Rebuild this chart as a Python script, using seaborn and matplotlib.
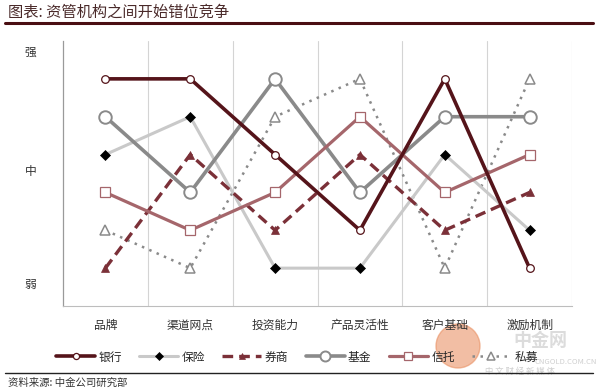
import matplotlib
matplotlib.use("Agg")
import matplotlib.pyplot as plt
from matplotlib.lines import Line2D
from matplotlib.patches import Ellipse
import numpy as np
import pandas as pd
import seaborn as sns

# 数据: 1 = 弱 ... 6 = 强
categories = ["品牌", "渠道网点", "投资能力", "产品灵活性", "客户基础", "激励机制"]
yinhang = [6, 6, 4, 2, 6, 1]
baoxian = [4, 5, 1, 1, 4, 2]
quanshang = [1, 4, 2, 4, 2, 3]
jijin = [5, 3, 6, 3, 5, 5]
xintuo = [3, 2, 3, 5, 3, 4]
simu = [2, 1, 5, 6, 1, 6]
level_labels = ["强", "中", "弱"]
level_pos = [6.75, 3.6, 0.6]

series = [
    ("银行", yinhang, dict(color="#55141a", lw=2.6, ls="-", marker="o", ms=5.5, mfc="white", mec="#55141a", mew=0.9)),
    ("保险", baoxian, dict(color="#c9c9c9", lw=2.2, ls="-", marker="D", ms=5, mfc="black", mec="black", mew=0.5)),
    ("券商", quanshang, dict(color="#7b3038", lw=2.4, ls=(0, (3.2, 1.8)), marker="^", ms=6, mfc="#7b3038", mec="#7b3038", mew=0.5)),
    ("基金", jijin, dict(color="#8a8a8a", lw=2.6, ls="-", marker="o", ms=9, mfc="white", mec="#8a8a8a", mew=1.4)),
    ("信托", xintuo, dict(color="#a5666b", lw=2.3, ls="-", marker="s", ms=6.5, mfc="white", mec="#a5666b", mew=0.9)),
    ("私募", simu, dict(color="#8a8a8a", lw=1.8, ls=(0, (1, 2.2)), marker="^", ms=7, mfc="white", mec="#8a8a8a", mew=1.1)),
]

sns.set_theme(style="white")
plt.rcParams["font.family"] = ["Noto Sans CJK SC", "DejaVu Sans"]

fig = plt.figure(figsize=(5.98, 3.91), dpi=100)
W, H = 598, 391
ax = fig.add_axes([63 / W, (H - 306) / H, (572 - 63) / W, (306 - 41) / H])

x = np.arange(len(categories))
handles = []
order_z = {"银行": 8, "保险": 4, "券商": 5, "基金": 6, "信托": 7, "私募": 3}
for name, vals, st in series:
    df = pd.DataFrame({"x": x, "y": vals})
    sns.lineplot(data=df, x="x", y="y", ax=ax, color=st["color"], linewidth=st["lw"],
                 linestyle=st["ls"], marker=st["marker"], markersize=st["ms"],
                 markerfacecolor=st["mfc"], markeredgecolor=st["mec"], markeredgewidth=st["mew"],
                 zorder=order_z[name], legend=False)
    handles.append(Line2D([], [], color=st["color"], lw=st["lw"], ls=st["ls"], marker=st["marker"],
                          ms=st["ms"] * 0.8, mfc=st["mfc"], mec=st["mec"], mew=st["mew"], label=name))

ax.set_xlim(-0.5, len(categories) - 0.5)
ax.set_ylim(0, 7)
ax.set_xticks(x)
ax.set_xticklabels(categories, fontsize=8.5, color="#333333")
ax.set_yticks(level_pos)
ax.set_yticklabels(level_labels, fontsize=8.5, color="#333333")
ax.tick_params(axis="x", length=0, pad=9)
ax.tick_params(axis="y", length=0, pad=19)
ax.set_xlabel("")
ax.set_ylabel("")
for b in np.arange(0.5, len(categories), 1.0):
    ax.axvline(b, color="#d4d4d4", lw=0.8, zorder=0)
for s in ["top", "right"]:
    ax.spines[s].set_visible(False)
ax.spines["left"].set_color("#9a9a9a")
ax.spines["left"].set_linewidth(0.9)
ax.spines["bottom"].set_color("#bdbdbd")
ax.spines["bottom"].set_linewidth(0.8)

# 水印 (放在图例下面)
fig.add_artist(Ellipse((458 / W, 1 - 346 / H), 44 / W, 44 / H, transform=fig.transFigure,
                       color="#e88a5a", alpha=0.55, zorder=0))
fig.text(540 / W, 1 - 340 / H, "中金网", fontsize=13, color="#dcdcdc", ha="center", va="center",
         weight="bold", zorder=0)
fig.text(566 / W, 1 - 362 / H, "CNGOLD.COM.CN", fontsize=5.5, color="#cfcfcf", ha="center", va="center", zorder=0)
fig.text(520 / W, 1 - 371 / H, "中 文 财 经 新 媒 体", fontsize=6, color="#cfcfcf", ha="center", va="center", zorder=0)

fig.legend(handles=handles, loc="center", bbox_to_anchor=(297 / W, (H - 357) / H), ncol=6,
           frameon=False, fontsize=8.5, handlelength=3.3, handletextpad=0.3, columnspacing=1.45)

# 标题与来源
fig.text(8 / W, 1 - 12 / H, "图表: 资管机构之间开始错位竞争", fontsize=11, color="#4a2a2a",
         ha="left", va="center", style="italic")
fig.add_artist(Line2D([5 / W, 593 / W], [1 - 22.5 / H, 1 - 22.5 / H], color="#4a0e12", lw=2.2))
fig.add_artist(Line2D([5 / W, 593 / W], [1 - 373 / H, 1 - 373 / H], color="#222222", lw=1.0))
fig.text(8 / W, 1 - 383 / H, "资料来源: 中金公司研究部", fontsize=7.5, color="#333333",
         ha="left", va="center", style="italic")

fig.savefig("out.png", dpi=100)
